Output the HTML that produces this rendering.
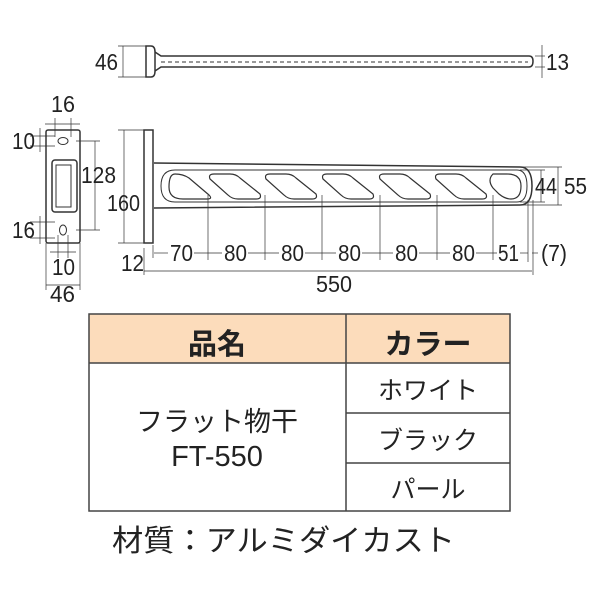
<!DOCTYPE html>
<html><head><meta charset="utf-8"><style>
html,body{margin:0;padding:0;background:#fff}
svg{display:block}
text{font-family:"Liberation Sans","Noto Sans CJK JP",sans-serif;fill:#222}
</style></head><body>
<svg width="600" height="600" viewBox="0 0 600 600" xmlns="http://www.w3.org/2000/svg">
<g stroke="#333" fill="none" stroke-width="1">
<path d="M146 46 h5 q4 0 4 6 v19 q0 6 -4 6 h-5 z" stroke-width="1.5"/>
<path d="M155 52 l6 4 h368 q4 0 4 5 q0 6 -4 6 h-368 l-6 4" stroke-width="1.5"/>
<line x1="161" y1="62" x2="528" y2="62" stroke-dasharray="4,3"/>
<line x1="118" y1="46" x2="146" y2="46" stroke-width="0.7"/>
<line x1="118" y1="77" x2="146" y2="77" stroke-width="0.7"/>
<line x1="123" y1="46" x2="123" y2="77" stroke-width="0.7"/>
<line x1="535" y1="56" x2="545" y2="56" stroke-width="0.7"/>
<line x1="535" y1="67" x2="545" y2="67" stroke-width="0.7"/>
<line x1="542" y1="45" x2="542" y2="78" stroke-width="0.7"/>
<rect x="46" y="130" width="34" height="113" rx="2" stroke-width="1.5"/>
<ellipse cx="63" cy="141" rx="5" ry="3.5"/>
<ellipse cx="63" cy="230" rx="3.5" ry="5"/>
<rect x="52" y="160" width="25" height="52" rx="3" stroke-width="1.5"/>
<rect x="56" y="165" width="15" height="42" stroke-width="1"/>
<g stroke-width="0.7">
<line x1="30" y1="136" x2="55" y2="136"/><line x1="30" y1="146" x2="55" y2="146"/><line x1="40" y1="128" x2="40" y2="152"/>
<line x1="30" y1="222" x2="55" y2="222"/><line x1="30" y1="238" x2="55" y2="238"/><line x1="40" y1="216" x2="40" y2="244"/>
<line x1="55" y1="118" x2="55" y2="137"/><line x1="71" y1="118" x2="71" y2="137"/><line x1="45" y1="124" x2="80" y2="124"/>
<line x1="76" y1="141" x2="100" y2="141"/><line x1="76" y1="230" x2="100" y2="230"/><line x1="95" y1="141" x2="95" y2="230"/>
<line x1="58" y1="235" x2="58" y2="258"/><line x1="68" y1="235" x2="68" y2="258"/><line x1="50" y1="252" x2="76" y2="252"/>
<line x1="46" y1="243" x2="46" y2="290"/><line x1="80" y1="243" x2="80" y2="290"/><line x1="46" y1="285" x2="80" y2="285"/>
</g>
<rect x="144" y="130" width="9" height="113" stroke-width="1.5"/>
<path d="M154 163 L520 167 q12 0 12 19 q0 19 -12 19 L154 208" stroke-width="1.5"/>
<path d="M175 170 L517 170 q10 0 10 16 q0 16 -10 16 L175 202 q-14 0 -14 -16 q0 -16 14 -16 z"/>
<g stroke-width="1.2">
<path d="M175 174 q8 0 14 4 l20 17 q4 4 -2 4 h-24 q-14 0 -14 -12 q0 -13 6 -13z"/>
<path d="M214 174 h16 q6 0 10 4 l20 16 q2 5 -4 5 h-18 q-6 0 -10 -4 l-18 -16 q-2 -5 4 -5z"/>
<path d="M270 174 h16 q6 0 10 4 l20 16 q2 5 -4 5 h-18 q-6 0 -10 -4 l-18 -16 q-2 -5 4 -5z"/>
<path d="M327 174 h16 q6 0 10 4 l20 16 q2 5 -4 5 h-18 q-6 0 -10 -4 l-18 -16 q-2 -5 4 -5z"/>
<path d="M384 174 h16 q6 0 10 4 l20 16 q2 5 -4 5 h-18 q-6 0 -10 -4 l-18 -16 q-2 -5 4 -5z"/>
<path d="M440 174 h16 q6 0 10 4 l20 16 q2 5 -4 5 h-18 q-6 0 -10 -4 l-18 -16 q-2 -5 4 -5z"/>
<path d="M497 174 h10 q14 0 14 12 q0 13 -10 13 q-6 0 -12 -5 l-6 -6 q-6 -8 0 -14z"/>
</g>
<g stroke-width="0.7">
<line x1="118" y1="130" x2="150" y2="130"/><line x1="118" y1="243" x2="150" y2="243"/><line x1="124" y1="130" x2="124" y2="243"/>
<line x1="144" y1="248" x2="144" y2="275"/><line x1="153" y1="245" x2="153" y2="258"/>
<line x1="154" y1="253" x2="168" y2="253"/><line x1="194" y1="253" x2="222" y2="253"/><line x1="248" y1="253" x2="279" y2="253"/>
<line x1="305" y1="253" x2="336" y2="253"/><line x1="362" y1="253" x2="393" y2="253"/><line x1="419" y1="253" x2="450" y2="253"/>
<line x1="476" y1="253" x2="497" y2="253"/><line x1="520" y1="253" x2="528" y2="253"/><line x1="532" y1="253" x2="538" y2="253"/>
<line x1="208" y1="195" x2="208" y2="260"/><line x1="265" y1="195" x2="265" y2="260"/><line x1="322" y1="195" x2="322" y2="260"/>
<line x1="380" y1="195" x2="380" y2="260"/><line x1="437" y1="195" x2="437" y2="260"/><line x1="493" y1="195" x2="493" y2="260"/>
<line x1="528" y1="200" x2="528" y2="262"/><line x1="533" y1="200" x2="533" y2="275"/>
<line x1="144" y1="271" x2="532" y2="271"/>
<line x1="520" y1="167" x2="562" y2="167"/><line x1="520" y1="205" x2="562" y2="205"/><line x1="558" y1="167" x2="558" y2="205"/>
<line x1="520" y1="170" x2="545" y2="170"/><line x1="520" y1="202" x2="545" y2="202"/><line x1="541" y1="170" x2="541" y2="202"/>
</g>
</g>
<g font-size="23">
<text x="95" y="70" textLength="23" lengthAdjust="spacingAndGlyphs">46</text>
<text x="546" y="70" textLength="23" lengthAdjust="spacingAndGlyphs">13</text>
<text x="51" y="112" textLength="24" lengthAdjust="spacingAndGlyphs">16</text>
<text x="12" y="149" textLength="23" lengthAdjust="spacingAndGlyphs">10</text>
<text x="81" y="183" textLength="35" lengthAdjust="spacingAndGlyphs">128</text>
<text x="107" y="211" textLength="33" lengthAdjust="spacingAndGlyphs">160</text>
<text x="12" y="238" textLength="23" lengthAdjust="spacingAndGlyphs">16</text>
<text x="52" y="275" textLength="23" lengthAdjust="spacingAndGlyphs">10</text>
<text x="50" y="302" textLength="25" lengthAdjust="spacingAndGlyphs">46</text>
<text x="121" y="271" textLength="23" lengthAdjust="spacingAndGlyphs">12</text>
<text x="170" y="261" textLength="23" lengthAdjust="spacingAndGlyphs">70</text>
<text x="224" y="261" textLength="23" lengthAdjust="spacingAndGlyphs">80</text>
<text x="281" y="261" textLength="23" lengthAdjust="spacingAndGlyphs">80</text>
<text x="338" y="261" textLength="23" lengthAdjust="spacingAndGlyphs">80</text>
<text x="395" y="261" textLength="23" lengthAdjust="spacingAndGlyphs">80</text>
<text x="452" y="261" textLength="23" lengthAdjust="spacingAndGlyphs">80</text>
<text x="498" y="261" textLength="21" lengthAdjust="spacingAndGlyphs">51</text>
<text x="541" y="261" textLength="26" lengthAdjust="spacingAndGlyphs">(7)</text>
<text x="316" y="292" textLength="36" lengthAdjust="spacingAndGlyphs">550</text>
<text x="535" y="194" textLength="22" lengthAdjust="spacingAndGlyphs">44</text>
<text x="564" y="194" textLength="23" lengthAdjust="spacingAndGlyphs">55</text>
</g>
<rect x="89" y="314" width="421" height="49" fill="#fcdcbb"/>
<g stroke="#444" fill="none" stroke-width="1.5">
<rect x="89" y="314" width="421" height="197"/>
<line x1="89" y1="363" x2="510" y2="363"/>
<line x1="346" y1="314" x2="346" y2="511"/>
<line x1="346" y1="413" x2="510" y2="413"/>
<line x1="346" y1="463" x2="510" y2="463"/>
</g>
<g text-anchor="middle">
<text x="217" y="354" font-size="29" font-weight="bold">品名</text>
<text x="428" y="354" font-size="29" font-weight="bold">カラー</text>
<text x="428" y="399" font-size="25">ホワイト</text>
<text x="428" y="449" font-size="25">ブラック</text>
<text x="428" y="498" font-size="25">パール</text>
<text x="217" y="431" font-size="27">フラット物干</text>
<text x="217" y="466" font-size="29">FT-550</text>
</g>
<text x="112" y="551" font-size="30" textLength="343" lengthAdjust="spacingAndGlyphs">材質：アルミダイカスト</text>
</svg>
</body></html>
